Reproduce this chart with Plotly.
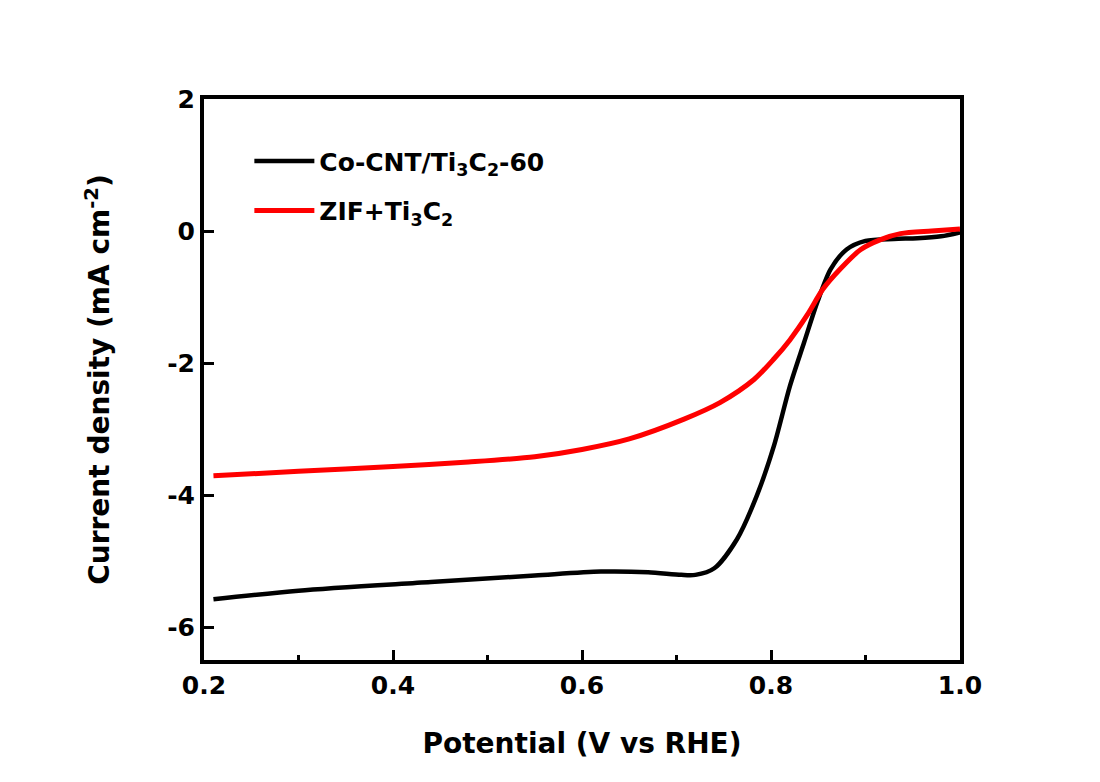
import plotly.graph_objects as go

# Linear sweep voltammetry curves
co_cnt_potential = [0.21, 0.30, 0.44, 0.55, 0.62, 0.67, 0.705, 0.72, 0.74, 0.764, 0.785,
                    0.803, 0.82, 0.835, 0.849, 0.863, 0.88, 0.90, 0.93, 0.955, 0.98, 1.0]
co_cnt_current = [-5.58, -5.45, -5.32, -5.22, -5.16, -5.17, -5.21, -5.21, -5.11, -4.67, -4.01,
                  -3.26, -2.35, -1.69, -1.08, -0.58, -0.28, -0.15, -0.12, -0.11, -0.08, -0.02]

zif_potential = [0.21, 0.30, 0.40, 0.48, 0.55, 0.60, 0.65, 0.708, 0.746, 0.782, 0.803,
                 0.82, 0.838, 0.855, 0.873, 0.895, 0.916, 0.937, 0.97, 1.0]
zif_current = [-3.71, -3.64, -3.57, -3.50, -3.42, -3.31, -3.15, -2.85, -2.60, -2.25, -1.94,
               -1.65, -1.28, -0.88, -0.58, -0.28, -0.13, -0.04, 0.0, 0.03]

series_names = ["Co-CNT/Ti<sub>3</sub>C<sub>2</sub>-60", "ZIF+Ti<sub>3</sub>C<sub>2</sub>"]
x_ticks = [0.2, 0.4, 0.6, 0.8, 1.0]
x_tick_labels = ["0.2", "0.4", "0.6", "0.8", "1.0"]
y_ticks = [2, 0, -2, -4, -6]
y_tick_labels = ["2", "0", "-2", "-4", "-6"]

FONT = "DejaVu Sans, Arial, sans-serif"

fig = go.Figure()
fig.add_trace(go.Scatter(
    x=co_cnt_potential, y=co_cnt_current, mode="lines", name=series_names[0],
    line=dict(color="black", width=4.5, shape="spline", smoothing=0.8),
    legendgroup="a",
))
fig.add_trace(go.Scatter(
    x=zif_potential, y=zif_current, mode="lines", name=series_names[1],
    line=dict(color="#ff0000", width=5, shape="spline", smoothing=0.8),
    legendgroup="b",
))

axis_common = dict(
    showline=True, linecolor="black", linewidth=4, mirror=True,
    showgrid=False, zeroline=False,
    ticks="inside", tickwidth=3, ticklen=10, tickcolor="black",
    tickfont=dict(family=FONT, size=25, color="black", weight="bold"),
)

fig.update_xaxes(
    **axis_common,
    range=[0.2, 1.0], tickvals=x_ticks, ticktext=x_tick_labels,
    minor=dict(ticks="inside", ticklen=5, tickwidth=3, tickcolor="black", dtick=0.1, tick0=0.2),
    title=dict(text="Potential (V vs RHE)", standoff=35,
               font=dict(family=FONT, size=28, color="black", weight="bold")),
)
fig.update_yaxes(
    **axis_common,
    range=[-6.5, 2.0], tickvals=y_ticks, ticktext=y_tick_labels,
    title=dict(text="Current density (mA cm<sup>-2</sup>)", standoff=50,
               font=dict(family=FONT, size=28, color="black", weight="bold")),
)

fig.update_layout(
    width=1100, height=782,
    margin=dict(l=204, r=140, t=99, b=122),
    paper_bgcolor="white", plot_bgcolor="white",
    legend=dict(
        x=0.06, y=0.93, xanchor="left", yanchor="top",
        bgcolor="rgba(0,0,0,0)", borderwidth=0,
        font=dict(family=FONT, size=25, color="black", weight="bold"),
        itemwidth=60, tracegroupgap=14, traceorder="grouped",
    ),
)

fig.write_html("out.html")
